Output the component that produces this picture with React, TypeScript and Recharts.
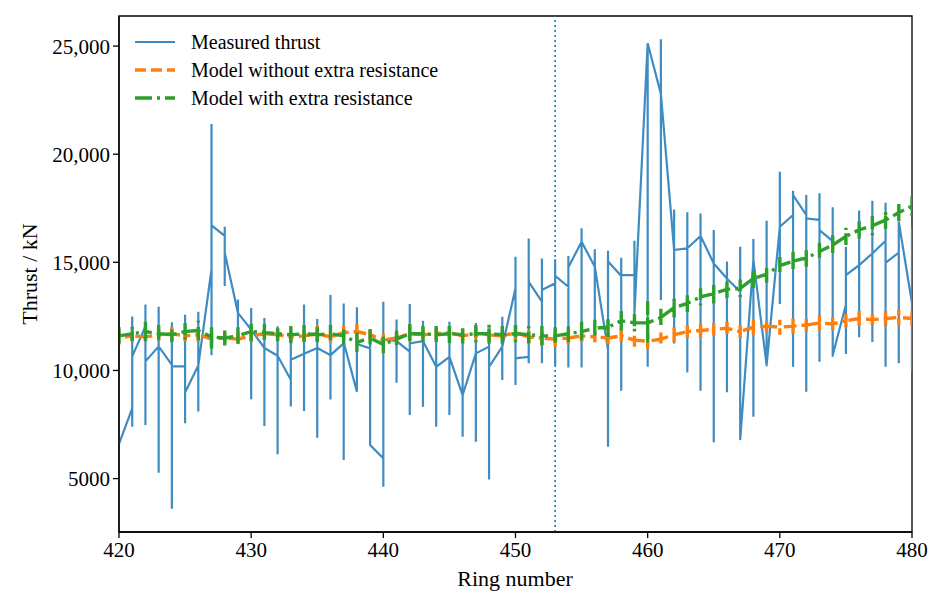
import React from "react";
import { LineChart, Line, XAxis, YAxis, ReferenceLine, ReferenceArea, Legend } from "recharts";

const rings = [
  420, 421, 422, 423, 424, 425, 426, 427, 428, 429, 430, 431, 432, 433, 434, 435, 436, 437, 438, 439,
  440, 441, 442, 443, 444, 445, 446, 447, 448, 449, 450, 451, 452, 453, 454, 455, 456, 457, 458, 459,
  460, 461, 462, 463, 464, 465, 466, 467, 468, 469, 470, 471, 472, 473, 474, 475, 476, 477, 478, 479, 480,
];

// measured thrust per ring: value coming in, top and bottom of the spread, value going out
const measuredEntry = [
  6600, 8250, 12040, 11110, 10260, 10190, 10230, 14670, 16220, 12660, 11890, 11040, 10680, 9570, 10770, 11040, 10710, 11250, 9020, 11020,
  5940, 11360, 10870, 11360, 10170, 10630, 8860, 10790, 11100, 11100, 13800, 10630, 13180, 14030, 13870, 15950, 14800, 10940, 14370, 14410,
  25130, 22790, 15570, 15650, 16220, 14950, 14250, 13640, 15110, 10250, 16650, 17190, 17190, 16960, 15980, 13040, 14870, 15410, 16000, 15450, 13100,
];
const measuredHigh = [
  6600, 12500, 13050, 12940, 12230, 12580, 12710, 21400, 16640, 13280, 12890, 12430, 12040, 12040, 13050, 12380, 13490, 13100, 12920, 11600,
  13180, 12360, 13070, 12300, 11870, 12250, 11870, 12200, 11770, 12480, 15260, 16100, 15180, 15140, 15290, 16570, 15600, 15540, 15210, 16000,
  25130, 25310, 17440, 17320, 17260, 16490, 15040, 15720, 16080, 16920, 19190, 18310, 18110, 18190, 17550, 15720, 17400, 17850, 17750, 16880, 16620,
];
const measuredLow = [
  6600, 7400, 7480, 5270, 3610, 7560, 8100, 10700, 13900, 11390, 8670, 7430, 6130, 8330, 8130, 6890, 8660, 5860, 9020, 6550,
  4620, 9430, 7940, 8320, 7400, 7940, 6930, 6700, 4960, 9560, 9330, 10330, 10330, 10250, 10140, 10140, 11410, 6470, 9060, 12330,
  10170, 13260, 11250, 9910, 9060, 6680, 8990, 6780, 7860, 10200, 13070, 10170, 9020, 10400, 10630, 10760, 11540, 11310, 10170, 10330, 9940,
];
const measuredExit = [
  6600, 10650, 10420, 11110, 10190, 8980, 10230, 16710, 15450, 12660, 11890, 11040, 10680, 10500, 10770, 11040, 10710, 11300, 11220, 6550,
  11440, 11360, 11250, 11360, 10170, 10630, 8860, 10790, 10170, 11100, 10560, 14100, 13720, 14370, 14770, 15950, 14800, 15040, 14410, 12640,
  25130, 22790, 15570, 15650, 16220, 14950, 14250, 6780, 15110, 10250, 16650, 18110, 17030, 16490, 10710, 14410, 14870, 15410, 14980, 16880, 13100,
];

const modelNoExtra = [
  11500, 11600, 11550, 11650, 11700, 11600, 11650, 11450, 11500, 11450, 11600, 11700, 11650, 11550, 11600, 11700, 11550, 11750, 11800, 11650,
  11400, 11500, 11700, 11650, 11700, 11750, 11600, 11700, 11650, 11600, 11750, 11550, 11500, 11450, 11500, 11600, 11550, 11500, 11600, 11400,
  11350, 11450, 11650, 11800, 11850, 11900, 11950, 11800, 12000, 12050, 12000, 12050, 12100, 12200, 12150, 12300, 12400, 12350, 12400, 12450, 12400,
];
const modelNoExtraSpread = [
  300, 250, 300, 250, 350, 250, 300, 350, 250, 300, 300, 250, 300, 250, 300, 350, 250, 300, 350, 250,
  300, 250, 350, 300, 250, 300, 300, 250, 300, 250, 350, 300, 300, 350, 300, 300, 250, 300, 300, 300,
  350, 300, 350, 300, 350, 300, 350, 300, 350, 300, 350, 350, 300, 350, 350, 300, 350, 350, 350, 350, 350,
];
const modelExtra = [
  11600, 11700, 11800, 11700, 11650, 11800, 11850, 11550, 11500, 11600, 11800, 11750, 11700, 11650, 11700, 11650, 11700, 11600, 11300, 11500,
  11200, 11450, 11700, 11700, 11650, 11700, 11650, 11700, 11700, 11650, 11700, 11650, 11600, 11600, 11700, 11800, 11950, 12000, 12300, 12200,
  12200, 12450, 12900, 13100, 13400, 13550, 13750, 13800, 14250, 14450, 14850, 15050, 15200, 15500, 15800, 16200, 16500, 16700, 16950, 17300, 17600,
];
const modelExtraSpread = [
  400, 350, 450, 400, 350, 400, 450, 550, 350, 400, 450, 400, 350, 400, 400, 350, 400, 400, 450, 400,
  400, 400, 450, 400, 400, 450, 400, 400, 450, 400, 400, 400, 450, 400, 400, 450, 400, 450, 450, 400,
  1000, 400, 450, 400, 400, 450, 400, 400, 450, 400, 400, 450, 400, 400, 450, 400, 400, 450, 400, 400, 450,
];

const xTicks = [420, 430, 440, 450, 460, 470, 480];
const yTicks = [5000, 10000, 15000, 20000, 25000];
const markerRing = 453;

const BLUE = "#3f8cc3";
const ORANGE = "#ff7f0e";
const GREEN = "#2ca02c";
const FONT = "'Liberation Serif', 'Times New Roman', serif";

type Pt = { x: number; y: number };

const measuredPath: Pt[] = rings.flatMap((r, i) => [
  { x: r, y: measuredEntry[i] },
  { x: r, y: measuredHigh[i] },
  { x: r, y: measuredLow[i] },
  { x: r, y: measuredExit[i] },
]);

const modelPath = (centre: number[], spread: number[]): Pt[] =>
  rings.flatMap((r, i) => [
    { x: r, y: centre[i] },
    { x: r, y: centre[i] + spread[i] },
    { x: r, y: centre[i] - spread[i] },
    { x: r, y: centre[i] },
  ]);

const noExtraPath = modelPath(modelNoExtra, modelNoExtraSpread);
const extraPath = modelPath(modelExtra, modelExtraSpread);

const formatThrust = (v: number) =>
  v >= 10000 ? String(v).replace(/\B(?=(\d{3})+(?!\d))/g, ",") : String(v);

const legendItems = [
  { label: "Measured thrust", color: BLUE, dash: undefined as string | undefined, width: 2.2 },
  { label: "Model without extra resistance", color: ORANGE, dash: "11 5", width: 3.4 },
  { label: "Model with extra resistance", color: GREEN, dash: "17 5 3 5", width: 3.4 },
];

const renderLegend = () => (
  <div style={{ fontFamily: FONT, fontSize: 20, color: "#000" }}>
    {legendItems.map((it) => (
      <div key={it.label} style={{ display: "flex", alignItems: "center", height: 28 }}>
        <svg width={42} height={10} style={{ marginRight: 15 }}>
          <line x1={1} y1={5} x2={41} y2={5} stroke={it.color} strokeWidth={it.width} strokeDasharray={it.dash} />
        </svg>
        <span>{it.label}</span>
      </div>
    ))}
  </div>
);

export default function App() {
  return (
    <div style={{ position: "absolute", left: 0, top: 0, width: 941, height: 610, background: "#fff" }}>
      <LineChart width={941} height={610} margin={{ top: 16, right: 29, bottom: 0, left: 0 }}>
        <XAxis
          type="number"
          dataKey="x"
          domain={[420, 480]}
          ticks={xTicks}
          allowDataOverflow
          height={78}
          tickSize={6}
          tickMargin={4}
          axisLine={{ stroke: "#000", strokeWidth: 1.3 }}
          tickLine={{ stroke: "#000", strokeWidth: 1.3 }}
          tick={{ fill: "#000", fontSize: 21, fontFamily: FONT }}
        />
        <YAxis
          type="number"
          dataKey="y"
          domain={[2530, 26390]}
          ticks={yTicks}
          allowDataOverflow
          width={119}
          tickSize={6}
          tickMargin={3}
          tickFormatter={formatThrust}
          axisLine={{ stroke: "#000", strokeWidth: 1.3 }}
          tickLine={{ stroke: "#000", strokeWidth: 1.3 }}
          tick={{ fill: "#000", fontSize: 21, fontFamily: FONT }}
        />
        <ReferenceArea x1={420} x2={480} y1={2530} y2={26390} fill="none" stroke="#000" strokeWidth={1.3} />
        <ReferenceLine x={markerRing} stroke="#1f77b4" strokeWidth={1.6} strokeDasharray="2 3" />
        <Line data={measuredPath} dataKey="y" type="linear" stroke={BLUE} strokeWidth={2.2} dot={false} isAnimationActive={false} />
        <Line data={noExtraPath} dataKey="y" type="linear" stroke={ORANGE} strokeWidth={3.4} strokeDasharray="11 5" dot={false} isAnimationActive={false} />
        <Line data={extraPath} dataKey="y" type="linear" stroke={GREEN} strokeWidth={3.4} strokeDasharray="17 5 3 5" dot={false} isAnimationActive={false} />
        <Legend
          layout="horizontal"
          verticalAlign="middle"
          content={renderLegend}
          wrapperStyle={{ position: "absolute", left: 134, top: 28, width: "auto", bottom: "auto" }}
        />
      </LineChart>
      <div
        style={{
          position: "absolute", left: 515, top: 566, transform: "translateX(-50%)",
          fontFamily: FONT, fontSize: 22, whiteSpace: "nowrap",
        }}
      >
        Ring number
      </div>
      <div
        style={{
          position: "absolute", left: 30, top: 274, transform: "translate(-50%, -50%) rotate(-90deg)",
          fontFamily: FONT, fontSize: 22, whiteSpace: "nowrap",
        }}
      >
        Thrust / kN
      </div>
    </div>
  );
}
